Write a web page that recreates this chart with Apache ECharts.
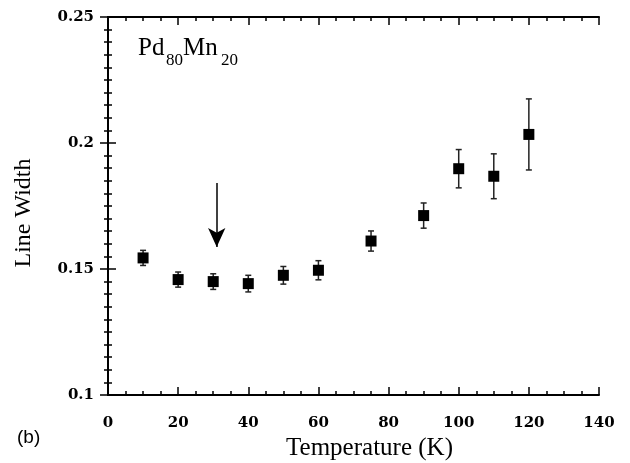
<!DOCTYPE html>
<html>
<head>
<meta charset="utf-8">
<script src="https://cdn.jsdelivr.net/npm/echarts@6/dist/echarts.min.js"></script>
<style>
html, body { margin: 0; padding: 0; background: #fff; }
#chart { width: 630px; height: 463px; }
</style>
</head>
<body>
<div id="chart"></div>
<script>
// temperature (K), line width, error
var temps = [10, 20, 30, 40, 50, 60, 75, 90, 100, 110, 120];
var widths = [0.1544, 0.1458, 0.1450, 0.1442, 0.1475, 0.1495, 0.1611, 0.1712, 0.1898, 0.1868, 0.2034];
var errs = [0.0030, 0.0030, 0.0031, 0.0033, 0.0035, 0.0038, 0.0040, 0.0050, 0.0076, 0.0089, 0.0141];
var arrowX = 31;
var arrowFrom = 0.1841;
var arrowTo = 0.1587;

var serif = '"Liberation Serif", "DejaVu Serif", serif';

var points = temps.map(function (t, i) { return [t, widths[i]]; });
var bars = temps.map(function (t, i) { return [t, widths[i] - errs[i], widths[i] + errs[i]]; });

var tickFont = { fontFamily: '"DejaVu Serif", serif', fontWeight: 'bold', fontSize: 15, color: '#000' };

function label(txt, x, y, size) {
    return {
        type: 'text', x: x, y: y,
        style: { text: txt, fontFamily: serif, fontSize: size, fill: '#000', verticalAlign: 'middle' }
    };
}

option = {
    animation: false,
    backgroundColor: '#fff',
    grid: { left: 108, right: 31, top: 17, bottom: 68, outerBoundsMode: 'none' },
    graphic: [
        label('Pd', 138, 48, 25),
        label('80', 166, 61, 17),
        label('Mn', 183, 48, 25),
        label('20', 221, 61, 17),
        {
            type: 'text', left: 17, top: 428,
            style: { text: '(b)', fontFamily: '"Liberation Sans", Arial, sans-serif', fontSize: 19, fill: '#000' }
        }
    ],
    xAxis: [
        {
            type: 'value', min: 0, max: 140, interval: 20,
            name: 'Temperature (K)', nameLocation: 'middle', nameGap: 40,
            nameTextStyle: { fontFamily: serif, fontSize: 25, color: '#000', padding: [0, 0, 0, 32] },
            axisLine: { lineStyle: { color: '#000', width: 2 } },
            axisTick: { inside: true, length: 8, lineStyle: { color: '#000', width: 1.5 } },
            minorTick: { show: true, splitNumber: 4, length: 4, lineStyle: { color: '#000', width: 1.5 } },
            axisLabel: Object.assign({ margin: 21 }, tickFont),
            splitLine: { show: false }
        },
        {
            type: 'value', min: 0, max: 140, interval: 20, position: 'top',
            axisLine: { lineStyle: { color: '#000', width: 2 } },
            axisTick: { inside: true, length: 8, lineStyle: { color: '#000', width: 1.5 } },
            minorTick: { show: true, splitNumber: 4, length: 4, lineStyle: { color: '#000', width: 1.5 } },
            axisLabel: { show: false },
            splitLine: { show: false }
        }
    ],
    yAxis: [
        {
            type: 'value', min: 0.1, max: 0.25, interval: 0.05,
            name: 'Line Width', nameLocation: 'middle', nameGap: 72,
            nameTextStyle: { fontFamily: serif, fontSize: 24, color: '#000', padding: [0, 14, 0, 0] },
            axisLine: { show: true, lineStyle: { color: '#000', width: 2 } },
            axisTick: { inside: true, length: 8, lineStyle: { color: '#000', width: 1.5 } },
            minorTick: { show: true, splitNumber: 10, length: 4, lineStyle: { color: '#000', width: 1.5 } },
            axisLabel: Object.assign({ margin: 14, formatter: function (v) { return String(+v.toFixed(2)); } }, tickFont),
            splitLine: { show: false }
        },
        {
            type: 'value', min: 0.1, max: 0.25, interval: 0.05, position: 'right',
            axisLine: { show: true, lineStyle: { color: '#000', width: 2 } },
            axisTick: { inside: true, length: 8, lineStyle: { color: '#000', width: 1.5 } },
            minorTick: { show: true, splitNumber: 10, length: 4, lineStyle: { color: '#000', width: 1.5 } },
            axisLabel: { show: false },
            splitLine: { show: false }
        }
    ],
    series: [
        {
            type: 'custom',
            data: bars,
            renderItem: function (params, api) {
                var x = api.value(0);
                var lo = api.coord([x, api.value(1)]);
                var hi = api.coord([x, api.value(2)]);
                var w = 3;
                var st = { stroke: '#222', lineWidth: 1.5 };
                return {
                    type: 'group',
                    children: [
                        { type: 'line', shape: { x1: lo[0], y1: lo[1], x2: hi[0], y2: hi[1] }, style: st },
                        { type: 'line', shape: { x1: lo[0] - w, y1: lo[1], x2: lo[0] + w, y2: lo[1] }, style: st },
                        { type: 'line', shape: { x1: hi[0] - w, y1: hi[1], x2: hi[0] + w, y2: hi[1] }, style: st }
                    ]
                };
            },
            z: 2
        },
        {
            type: 'scatter',
            data: points,
            symbol: 'rect',
            symbolSize: 11,
            itemStyle: { color: '#000', opacity: 1 },
            z: 3,
            markLine: {
                silent: true,
                symbol: ['none', 'arrow'],
                symbolSize: [13, 19],
                label: { show: false },
                lineStyle: { color: '#000', width: 1.5, type: 'solid' },
                data: [[{ coord: [arrowX, arrowFrom] }, { coord: [arrowX, arrowTo] }]]
            }
        }
    ]
};

var myChart = echarts.init(document.getElementById('chart'));
myChart.setOption(option);
</script>
</body>
</html>
